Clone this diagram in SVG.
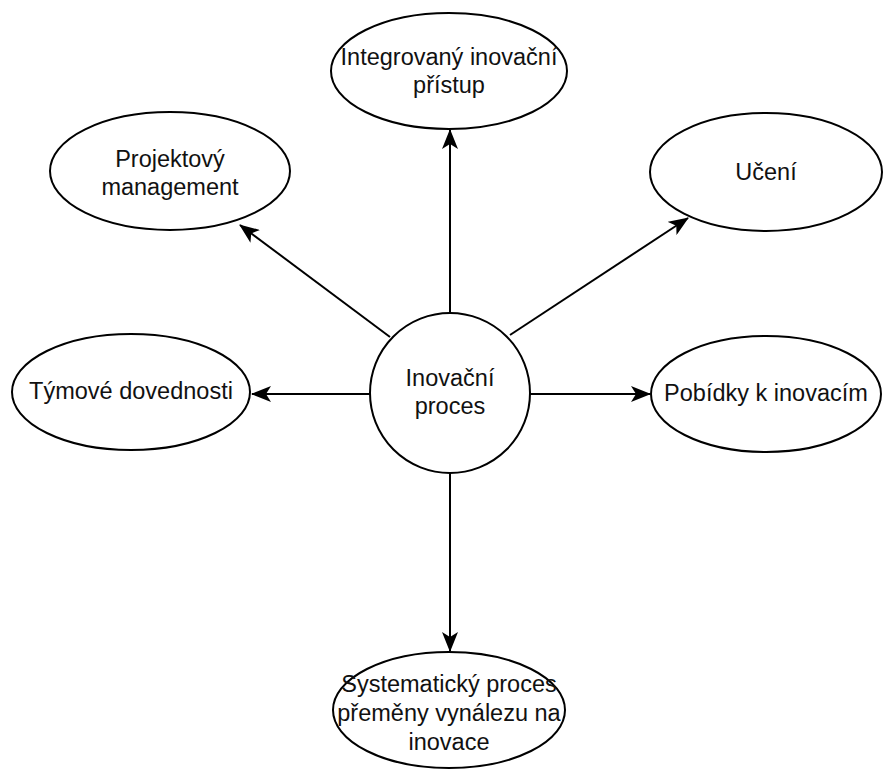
<svg xmlns="http://www.w3.org/2000/svg" width="884" height="769" viewBox="0 0 884 769">
<style>
.n{fill:#fff;stroke:#000;stroke-width:2}
.t{font-family:"Liberation Sans",Arial,sans-serif;font-size:23.5px;fill:#111;text-anchor:middle}
.c{stroke:#000;stroke-width:2;fill:none;marker-end:url(#a)}
</style>
<defs>
<marker id="a" viewBox="0 0 20 16" refX="19" refY="8" markerWidth="20" markerHeight="16" markerUnits="userSpaceOnUse" orient="auto">
<path d="M0,0 L20,8 L0,16 L5,8 Z" fill="#000"/>
</marker>
</defs>
<rect width="884" height="769" fill="#fff"/>
<g id="connectors">
<line class="c" x1="450" y1="313" x2="450" y2="130"/>
<line class="c" x1="390" y1="337" x2="240" y2="225"/>
<line class="c" x1="510" y1="335" x2="688" y2="218"/>
<line class="c" x1="370" y1="394" x2="252" y2="394"/>
<line class="c" x1="530" y1="394" x2="650" y2="394"/>
<line class="c" x1="450" y1="474" x2="450" y2="651"/>
</g>
<g id="center">
<circle class="n" cx="450" cy="393" r="80"/>
<text class="t" x="450" y="386">Inovační</text>
<text class="t" x="450" y="414">proces</text>
</g>
<g id="integrovany">
<ellipse class="n" cx="449" cy="71" rx="118" ry="58"/>
<text class="t" x="449" y="65">Integrovaný inovační</text>
<text class="t" x="449" y="93">přístup</text>
</g>
<g id="projektovy">
<ellipse class="n" cx="170" cy="171" rx="120" ry="59"/>
<text class="t" x="170" y="167">Projektový</text>
<text class="t" x="170" y="195">management</text>
</g>
<g id="uceni">
<ellipse class="n" cx="766" cy="172" rx="116" ry="59"/>
<text class="t" x="766" y="180">Učení</text>
</g>
<g id="tymove">
<ellipse class="n" cx="131" cy="392" rx="119" ry="58"/>
<text class="t" x="131" y="399">Týmové dovednosti</text>
</g>
<g id="pobidky">
<ellipse class="n" cx="766" cy="394" rx="115" ry="58"/>
<text class="t" x="766" y="401">Pobídky k inovacím</text>
</g>
<g id="systematicky">
<ellipse class="n" cx="449" cy="710" rx="116" ry="58"/>
<text class="t" x="449" y="692">Systematický proces</text>
<text class="t" x="449" y="721">přeměny vynálezu na</text>
<text class="t" x="449" y="750">inovace</text>
</g>
</svg>
